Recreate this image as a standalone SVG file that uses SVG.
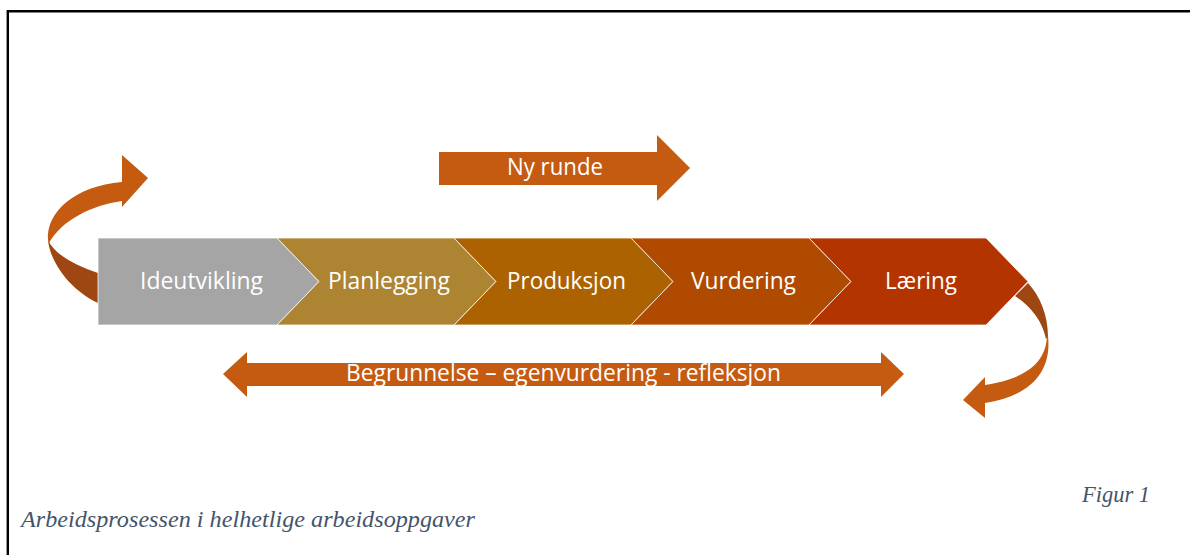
<svg xmlns="http://www.w3.org/2000/svg" width="1190" height="555" viewBox="0 0 1190 555">
  <style>
    .seg { stroke: #ffffff; stroke-width: 1; stroke-opacity: 0.75; }
    .lbl { font-family: "Open Sans", "Noto Sans", "Liberation Sans", sans-serif; font-size: 23px; fill: #ffffff; }
    .arrow { fill: #C55A11; }
    .dark { fill: #9E4712; }
    .cap { font-family: "Liberation Serif", "DejaVu Serif", serif; font-style: italic; font-size: 23px; fill: #44546A; }
  </style>
  <rect x="0" y="0" width="1190" height="555" fill="#ffffff"/>
  <polyline points="7.8,560 7.8,11.2 1195,11.2" fill="none" stroke="#000000" stroke-width="2.4"/>

  <g id="connectors">
    <g id="left-curved-arrow">
      <path class="dark" d="M98,273 C75,265 55,255 48,240 C50,262 70,290 98,303 Z"/>
      <path class="arrow" d="M48,240 C46,212 75,186 122,182 L122,155 L148,178 L122,207 L122,201 C92,205 62,220 49,243 Z"/>
    </g>
    <g id="right-curved-arrow">
      <path class="dark" d="M1028,283 C1040,296 1048,315 1048,337 L1046,339 C1043,322 1031,306 1015,296 Z"/>
      <path class="arrow" d="M1047,336 C1046,360 1030,378 985,385 L985,377 L963,400 L985,418 L985,403 C1030,396 1052,372 1048,336 Z"/>
    </g>
    <g id="ny-runde-arrow">
      <path class="arrow" d="M439,152 L657,152 L657,135 L690,168 L657,201 L657,185 L439,185 Z"/>
      <text class="lbl" x="507" y="175" textLength="96" lengthAdjust="spacingAndGlyphs">Ny runde</text>
    </g>
    <g id="begrunnelse-arrow">
      <path class="arrow" d="M223,374 L247,352 L247,363 L881,363 L881,352 L904,374 L881,397 L881,386 L247,386 L247,397 Z"/>
      <text class="lbl" x="346" y="381" font-size="22" textLength="435" lengthAdjust="spacingAndGlyphs">Begrunnelse – egenvurdering - refleksjon</text>
    </g>
  </g>

  <g id="node-ideutvikling">
    <path class="seg" fill="#A5A5A5" d="M98,238 L277,238 L319,281.5 L277,325 L98,325 Z"/>
    <text class="lbl" x="140" y="289" textLength="123" lengthAdjust="spacingAndGlyphs" fill="#F2F2F2">Ideutvikling</text>
  </g>
  <g id="node-planlegging">
    <path class="seg" fill="#AD8432" d="M277,238 L454,238 L496,281.5 L454,325 L277,325 L319,281.5 Z"/>
    <text class="lbl" x="328" y="289" textLength="122" lengthAdjust="spacingAndGlyphs">Planlegging</text>
  </g>
  <g id="node-produksjon">
    <path class="seg" fill="#AC6200" d="M454,238 L631,238 L673,281.5 L631,325 L454,325 L496,281.5 Z"/>
    <text class="lbl" x="507" y="289" textLength="119" lengthAdjust="spacingAndGlyphs">Produksjon</text>
  </g>
  <g id="node-vurdering">
    <path class="seg" fill="#B04A00" d="M631,238 L809,238 L851,281.5 L809,325 L631,325 L673,281.5 Z"/>
    <text class="lbl" x="691" y="289" textLength="105" lengthAdjust="spacingAndGlyphs">Vurdering</text>
  </g>
  <g id="node-laering">
    <path class="seg" fill="#B43400" d="M809,238 L986,238 L1028,281.5 L986,325 L809,325 L851,281.5 Z"/>
    <text class="lbl" x="885" y="289" textLength="72" lengthAdjust="spacingAndGlyphs">Læring</text>
  </g>

  <text class="cap" x="1082" y="502" textLength="68" lengthAdjust="spacingAndGlyphs">Figur 1</text>
  <text class="cap" x="21" y="527" textLength="454" lengthAdjust="spacingAndGlyphs">Arbeidsprosessen i helhetlige arbeidsoppgaver</text>
</svg>
